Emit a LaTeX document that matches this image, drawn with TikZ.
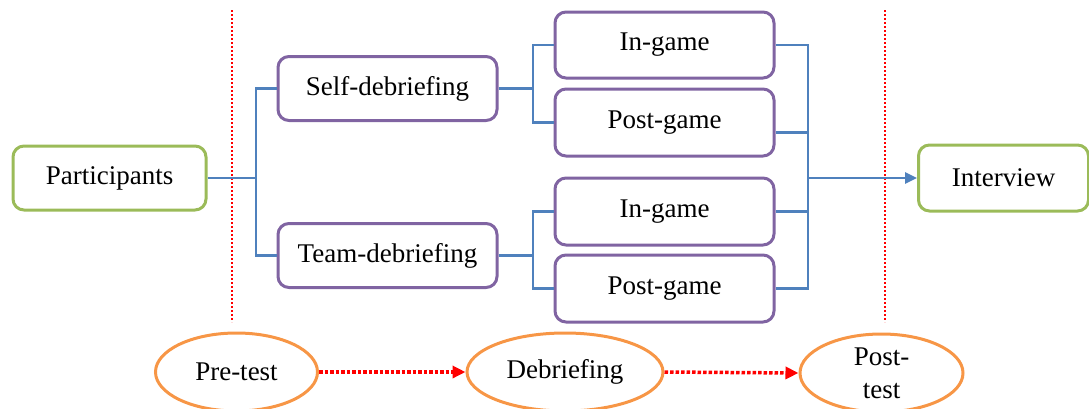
\documentclass[tikz,border=0pt]{standalone}
\usepackage{fontspec}
\setmainfont{Liberation Serif}
\usetikzlibrary{arrows.meta,shapes.geometric}
\definecolor{boxgreen}{HTML}{9BBB59}
\definecolor{boxpurple}{HTML}{8064A2}
\definecolor{linkblue}{HTML}{4F81BD}
\definecolor{ovalorange}{HTML}{F79646}
\tikzset{
  x=1pt, y=-1pt,
  base/.style={font=\fontsize{27}{33}\selectfont, inner sep=0pt, align=center},
  endbox/.style={base, draw=boxgreen, line width=3pt, rounded corners=11pt, minimum width=190pt, minimum height=64pt},
  stagebox/.style={base, draw=boxpurple, line width=3pt, rounded corners=11pt, minimum width=216pt, minimum height=64pt},
  phase/.style={base, ellipse, draw=ovalorange, line width=3pt, minimum width=162pt, minimum height=78pt},
  link/.style={draw=linkblue, line width=2.5pt},
  divider/.style={draw=red, line width=2.2pt, dash pattern=on 2pt off 2pt},
  flow/.style={draw=red, line width=3.5pt, dotted, -{Triangle[length=13pt,width=12pt,fill=red]}}
}
\begin{document}
\begin{tikzpicture}
\useasboundingbox (0,0) rectangle (1089,408);

% phase dividers
\coordinate (d1t) at (232,10);
\coordinate (d1b) at (232,322);
\coordinate (d2t) at (885,10);
\coordinate (d2b) at (885,322);
\draw[divider] (d1t) -- (d1b);
\draw[divider] (d2t) -- (d2b);

% boxes
\node[endbox, minimum width=193pt] (part) at (109.5,178) {Participants};
\node[stagebox, minimum width=219pt] (self) at (387.5,88.5) {Self-debriefing};
\node[stagebox, minimum width=219pt] (team) at (387.5,255.5) {Team-debriefing};
\node[stagebox, minimum width=219pt, minimum height=66pt] (ig1) at (664.5,45) {In-game};
\node[stagebox, minimum width=219pt, minimum height=67pt] (pg1) at (664.5,122.5) {Post-game};
\node[stagebox, minimum width=219pt, minimum height=67pt] (ig2) at (664.5,211.5) {In-game};
\node[stagebox, minimum width=219pt, minimum height=67pt] (pg2) at (664.5,288.5) {Post-game};
\node[endbox, minimum width=170pt, minimum height=66pt] (intv) at (1003.5,178) {Interview};

% ovals
\node[phase] (pre) at (236.5,372) {Pre-test};
\node[phase, minimum width=196pt] (deb) at (565,372) {Debriefing};
\node[phase, minimum width=163pt] (post) at (881.5,373) {Post-\\test};

% tree connectors
\coordinate (b1) at (256,178);
\coordinate (b2) at (533,88.5);
\coordinate (b3) at (533,255.5);
\coordinate (b4) at (808,178);
\draw[link] (part.east) -- (b1);
\draw[link] (self.west) -| (b1) |- (team.west);
\draw[link] (self.east) -- (b2);
\draw[link] (ig1.west) -| (b2) |- (pg1.west);
\draw[link] (team.east) -- (b3);
\draw[link] (ig2.west) -| (b3) |- (pg2.west);
\draw[link] (ig1.east) -| (b4);
\draw[link] ([yshift=-10pt]pg1.east) -| (b4);
\draw[link] (ig2.east) -| (b4);
\draw[link] (pg2.east) -| (b4);
\draw[link, -{Triangle[length=12pt,width=11pt]}] (b4) -- (intv.west);

% phase flow
\draw[flow] (pre.east) -- (deb.west);
\draw[flow] (deb.east) -- (post.west);
\end{tikzpicture}
\end{document}
